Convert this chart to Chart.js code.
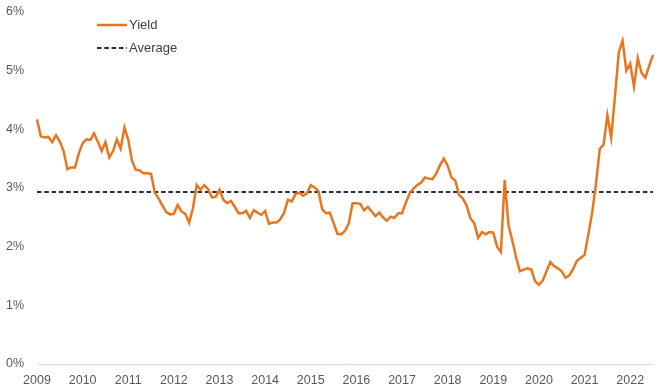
<!DOCTYPE html>
<html>
<head>
<meta charset="utf-8">
<script src="https://cdn.jsdelivr.net/npm/chart.js@4.4.1/dist/chart.umd.min.js"></script>
<style>
  html, body { margin: 0; padding: 0; background: #ffffff; }
  #wrap { width: 660px; height: 390px; position: relative; }
</style>
</head>
<body>
<div id="wrap"><canvas id="c" width="660" height="390"></canvas></div>
<script>
// Monthly yield (%) Jan 2009 – Jul 2022
const YIELD = [
  4.17, 3.88, 3.86, 3.87, 3.78, 3.90, 3.79, 3.63, 3.32, 3.35, 3.35, 3.59,
  3.76, 3.83, 3.82, 3.93, 3.79, 3.63, 3.78, 3.52, 3.63, 3.83, 3.67, 4.03,
  3.82, 3.46, 3.31, 3.30, 3.25, 3.25, 3.24, 2.92, 2.82, 2.70, 2.59, 2.55,
  2.56, 2.71, 2.60, 2.56, 2.41, 2.65, 3.05, 2.97, 3.05, 2.98, 2.84, 2.85,
  2.97, 2.80, 2.74, 2.78, 2.68, 2.57, 2.57, 2.61, 2.49, 2.62, 2.58, 2.54,
  2.61, 2.39, 2.41, 2.41, 2.47, 2.58, 2.80, 2.77, 2.90, 2.92, 2.87, 2.91,
  3.05, 3.01, 2.95, 2.64, 2.57, 2.58, 2.40, 2.22, 2.21, 2.27, 2.40, 2.74,
  2.74, 2.73, 2.62, 2.68, 2.60, 2.52, 2.58, 2.50, 2.44, 2.51, 2.49, 2.57,
  2.57, 2.75, 2.91, 2.99, 3.05, 3.09, 3.18, 3.16, 3.15, 3.25, 3.39, 3.50,
  3.38, 3.18, 3.13, 2.88, 2.82, 2.70, 2.48, 2.40, 2.15, 2.25, 2.21, 2.25,
  2.24, 2.00, 1.91, 3.14, 2.37, 2.10, 1.82, 1.58, 1.61, 1.63, 1.61, 1.41,
  1.35, 1.42, 1.58, 1.74, 1.67, 1.63, 1.58, 1.47, 1.51, 1.62, 1.76, 1.81,
  1.86, 2.21, 2.58, 3.07, 3.67, 3.74, 4.24, 3.86, 4.56, 5.31, 5.51, 5.00,
  5.12, 4.73, 5.21, 4.96, 4.88, 5.08, 5.27
];
const AVERAGE = 2.93;
const START_YEAR = 2009;
const Y_TICKS = [0, 1, 2, 3, 4, 5, 6];

// Month labels built from the start year and the number of observations
const MONTHS = YIELD.map((_, i) => {
  const y = START_YEAR + Math.floor(i / 12);
  const m = (i % 12) + 1;
  return y + '-' + String(m).padStart(2, '0');
});

const FONT = '"Liberation Sans", Arial, sans-serif';

const manualLegend = {
  id: 'manualLegend',
  afterDraw(chart) {
    const ctx = chart.ctx;
    ctx.save();
    chart.data.datasets.forEach((ds, i) => {
      const y = 25 + i * 23;
      ctx.beginPath();
      ctx.setLineDash(ds.borderDash || []);
      ctx.strokeStyle = ds.borderColor;
      ctx.lineWidth = ds.borderWidth;
      ctx.moveTo(97, y);
      ctx.lineTo(127, y);
      ctx.stroke();
      ctx.setLineDash([]);
      ctx.fillStyle = '#404040';
      ctx.font = '13px ' + FONT;
      ctx.textBaseline = 'middle';
      ctx.textAlign = 'left';
      ctx.fillText(ds.label, 129, y + 0.5);
    });
    ctx.restore();
  }
};

new Chart(document.getElementById('c'), {
  type: 'line',
  data: {
    labels: MONTHS,
    datasets: [
      {
        label: 'Yield',
        data: YIELD,
        borderColor: '#E8761E',
        borderWidth: 2.5,
        pointRadius: 0,
        tension: 0,
        fill: false
      },
      {
        label: 'Average',
        data: [
          { x: MONTHS[0], y: AVERAGE },
          { x: MONTHS[MONTHS.length - 1], y: AVERAGE }
        ],
        borderColor: '#262D3B',
        borderWidth: 2,
        borderDash: [4.5, 2.8],
        pointRadius: 0,
        tension: 0,
        fill: false
      }
    ]
  },
  options: {
    responsive: false,
    animation: false,
    layout: { padding: { top: 12, right: 7, bottom: 0, left: 0 } },
    plugins: {
      legend: { display: false },
      tooltip: { enabled: false }
    },
    scales: {
      x: {
        type: 'category',
        offset: false,
        grid: { display: false, drawTicks: false },
        border: { display: true, color: '#D9D9D9', width: 1 },
        ticks: {
          autoSkip: false,
          maxRotation: 0,
          minRotation: 0,
          padding: 9,
          color: '#595959',
          font: { family: FONT, size: 12.5 },
          callback: function (value, index) {
            const lab = MONTHS[index];
            return lab.endsWith('-01') ? lab.slice(0, 4) : null;
          }
        },
        afterFit: (scale) => {
          scale.height = 26;
          scale.paddingLeft = 0;
          scale.paddingRight = 0;
        }
      },
      y: {
        min: Y_TICKS[0],
        max: Y_TICKS[Y_TICKS.length - 1],
        afterBuildTicks: (scale) => { scale.ticks = Y_TICKS.map(v => ({ value: v })); },
        grid: { display: false, drawTicks: false },
        border: { display: false },
        ticks: {
          padding: 13,
          color: '#595959',
          font: { family: FONT, size: 12.5 },
          callback: (v) => v + '%'
        },
        afterFit: (scale) => {
          scale.width = 37;
          scale.paddingTop = 0;
          scale.paddingBottom = 0;
        }
      }
    }
  },
  plugins: [manualLegend]
});
</script>
</body>
</html>
